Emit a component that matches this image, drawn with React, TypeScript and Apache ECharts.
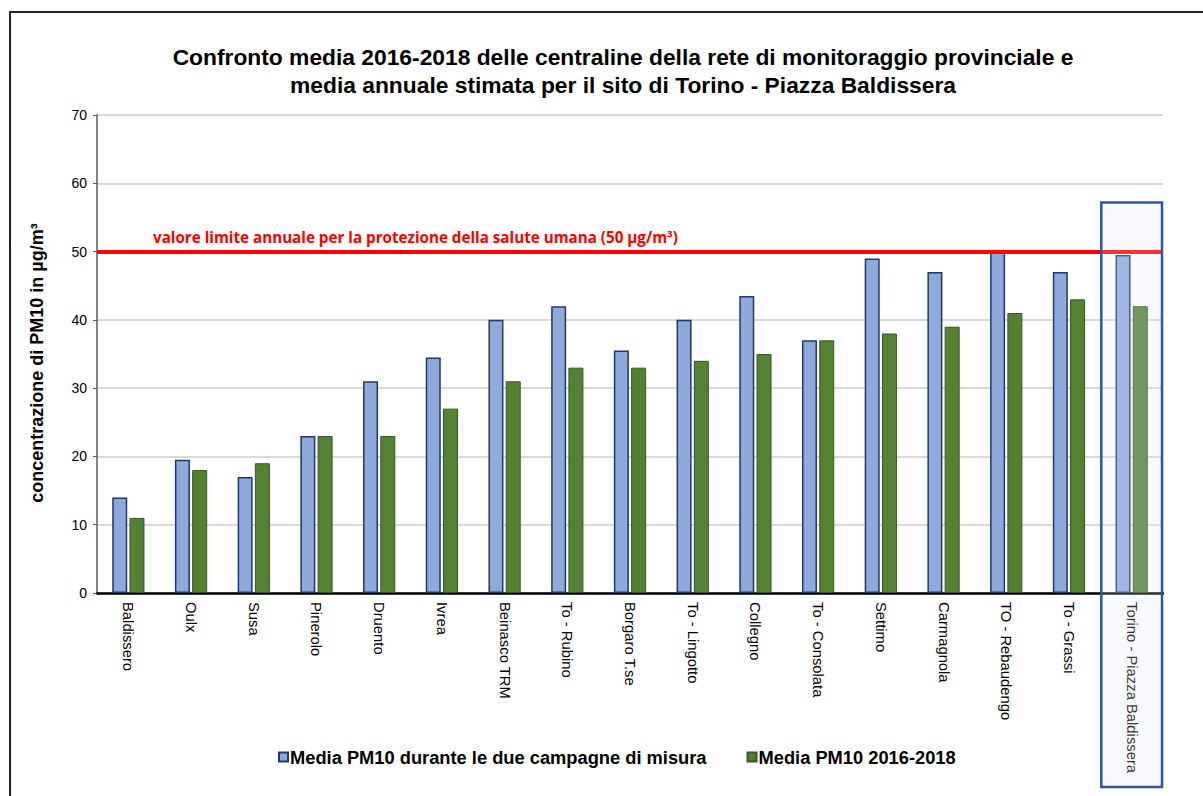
import React, { useEffect, useRef } from "react";
import * as echarts from "echarts";

const categories = [
  "Baldissero", "Oulx", "Susa", "Pinerolo", "Druento", "Ivrea", "Beinasco TRM",
  "To - Rubino", "Borgaro T.se", "To - Lingotto", "Collegno", "To - Consolata",
  "Settimo", "Carmagnola", "TO - Rebaudengo", "To - Grassi", "Torino - Piazza Baldissera",
];
const campagneValues = [14, 19.5, 17, 23, 31, 34.5, 40, 42, 35.5, 40, 43.5, 37, 49, 47, 50, 47, 49.5];
const media1618Values = [11, 18, 19, 23, 23, 27, 31, 33, 33, 34, 35, 37, 38, 39, 41, 43, 42];
const seriesNames = ["Media PM10 durante le due campagne di misura", "Media PM10 2016-2018"];
const limitValue = 50;
const limitLabel = "valore limite annuale per la protezione della salute umana (50 µg/m³)";
const yTicks = { min: 0, max: 70, interval: 10 };

const FONT = "'Liberation Sans', Arial, sans-serif";

export default function App() {
  const ref = useRef<HTMLDivElement>(null);
  useEffect(() => {
    if (!ref.current) return;
    document.body.style.margin = "0";
    const chart = echarts.init(ref.current, undefined, { renderer: "svg" });
    chart.setOption({
      animation: false,
      backgroundColor: "#ffffff",
      textStyle: { fontFamily: FONT },
      title: {
        text: "Confronto media 2016-2018 delle centraline della rete di monitoraggio provinciale e\nmedia annuale stimata per il sito di Torino - Piazza Baldissera",
        left: 618,
        top: 38,
        textAlign: "center",
        textStyle: { fontFamily: FONT, fontSize: 22.8, fontWeight: "bold", color: "#000", lineHeight: 28 },
      },
      legend: {
        left: 273,
        top: 743,
        itemWidth: 9,
        itemHeight: 9,
        itemGap: 40,
        icon: "rect",
        textStyle: { fontFamily: FONT, fontSize: 18.3, fontWeight: "bold", color: "#000", padding: [0, 0, 0, -3] },
        data: seriesNames,
      },
      grid: { left: 97, right: 40, top: 115, bottom: 203 },
      xAxis: {
        type: "category",
        data: categories,
        axisLine: { show: true, lineStyle: { color: "#000", width: 2.5 } },
        axisTick: { show: false },
        axisLabel: { rotate: -90, margin: 9, fontFamily: FONT, fontSize: 14.8, color: "#000", interval: 0 },
      },
      yAxis: {
        type: "value",
        min: yTicks.min,
        max: yTicks.max,
        interval: yTicks.interval,
        name: "concentrazione di PM10 in µg/m³",
        nameLocation: "middle",
        nameGap: 51,
        nameTextStyle: { fontFamily: FONT, fontSize: 18, fontWeight: "bold", color: "#000", padding: [0, 18, 0, 0] },
        axisLine: { show: true, lineStyle: { color: "#595959", width: 1.5 } },
        axisTick: { show: true, length: 4, lineStyle: { color: "#595959" } },
        axisLabel: { fontFamily: FONT, fontSize: 14, color: "#000", margin: 10 },
        splitLine: { lineStyle: { color: "#d9d9d9", width: 2 } },
      },
      series: [
        {
          name: seriesNames[0],
          type: "bar",
          data: campagneValues,
          barWidth: 15,
          barGap: "15%",
          itemStyle: { color: "#8eaadb", borderColor: "#1f3864", borderWidth: 1.5 },
          markLine: {
            silent: true,
            symbol: "none",
            data: [{ yAxis: limitValue }],
            lineStyle: { color: "#ff0000", width: 4, type: "solid" },
            label: {
              show: true,
              position: "insideStartTop",
              distance: [56, 7],
              formatter: limitLabel,
              fontFamily: "'Open Sans', sans-serif",
              fontSize: 15.2,
              fontWeight: "bold",
              color: "#ff0000",
            },
            z: 5,
          },
        },
        {
          name: seriesNames[1],
          type: "bar",
          data: media1618Values,
          barWidth: 15,
          itemStyle: { color: "#548235", borderColor: "#375623", borderWidth: 1 },
        },
      ],
    });

    const last = categories.length - 1;
    const xc = chart.convertToPixel({ xAxisIndex: 0 }, categories[last]) as number;
    const xp = chart.convertToPixel({ xAxisIndex: 0 }, categories[last - 1]) as number;
    const band = xc - xp;
    const topY = chart.convertToPixel({ yAxisIndex: 0 }, 57.2) as number;
    chart.setOption({
      graphic: [
        {
          type: "rect",
          z: 100,
          silent: true,
          shape: { x: xc - band / 2 + 1, y: topY, width: band - 2, height: 787 - topY },
          style: { fill: "rgba(228,234,244,0.22)", stroke: "#2f5597", lineWidth: 2.5 },
        },
        {
          type: "rect",
          z: 100,
          silent: true,
          shape: { x: 10, y: 12, width: 1400, height: 1000 },
          style: { fill: "none", stroke: "#222", lineWidth: 2 },
        },
      ],
    });
    return () => chart.dispose();
  }, []);
  return <div ref={ref} style={{ position: "absolute", left: 0, top: 0, width: 1203, height: 796 }} />;
}
